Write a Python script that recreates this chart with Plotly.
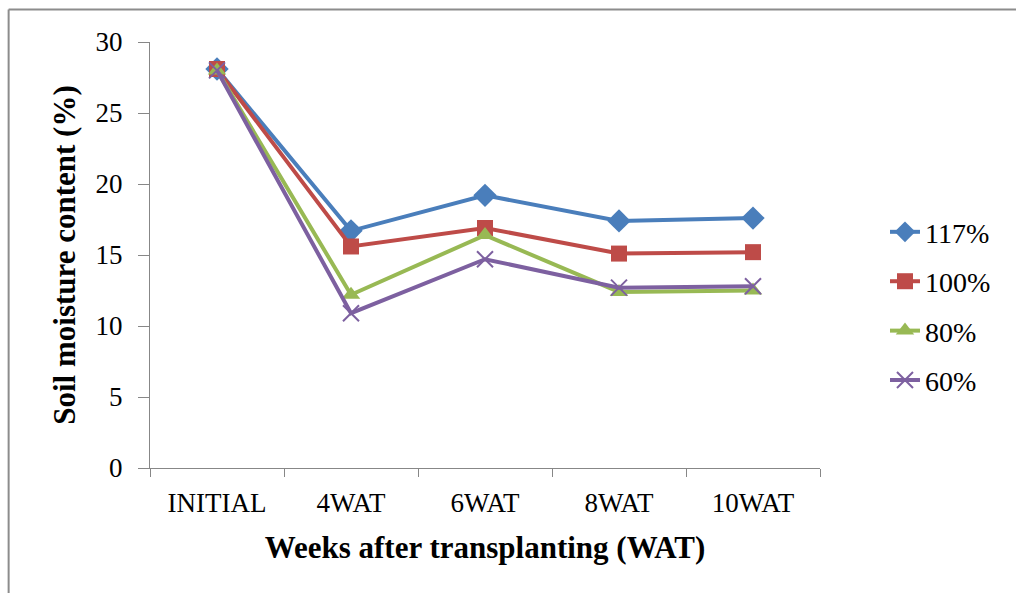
import plotly.graph_objects as go

# Sampling stages
weeks = ["INITIAL", "4WAT", "6WAT", "8WAT", "10WAT"]

# Soil moisture content (%) per irrigation level
moisture_117 = [28.1, 16.7, 19.2, 17.4, 17.6]
moisture_100 = [28.1, 15.6, 16.9, 15.1, 15.2]
moisture_80 = [28.0, 12.2, 16.4, 12.4, 12.5]
moisture_60 = [28.0, 10.9, 14.7, 12.7, 12.8]

series_names = ["117%", "100%", "80%", "60%"]

styles = [
    dict(color="#4A7EBB", symbol="diamond", size=18),
    dict(color="#BE4B48", symbol="square", size=16),
    dict(color="#98B954", symbol="triangle-up", size=16),
    dict(color="#7D60A0", symbol="x-thin", size=16),
]

fig = go.Figure()
for name, vals, st in zip(series_names,
                          [moisture_117, moisture_100, moisture_80, moisture_60],
                          styles):
    marker = dict(symbol=st["symbol"], size=st["size"], color=st["color"])
    if st["symbol"] == "x-thin":
        marker["line"] = dict(color=st["color"], width=2)
    else:
        marker["line"] = dict(width=0)
    fig.add_trace(go.Scatter(
        x=weeks, y=vals, name=name, mode="lines+markers",
        line=dict(color=st["color"], width=4),
        marker=marker, legendgroup=name,
    ))

axis_col = "#878787"
serif = "Liberation Serif"
fig.update_layout(
    width=1016, height=593,
    margin=dict(l=150, r=196, t=42, b=125),
    paper_bgcolor="white", plot_bgcolor="white",
    font=dict(family=serif, color="black", size=27),
    showlegend=True,
    legend=dict(x=1.097, y=0.38, yanchor="middle", xanchor="left",
                font=dict(family=serif, size=28, color="black"),
                tracegroupgap=10, bgcolor="rgba(0,0,0,0)"),
    xaxis=dict(
        type="category", range=[-0.5, 4.5], tickson="boundaries",
        ticks="outside", ticklen=8,
        tickcolor=axis_col, showline=True, linecolor=axis_col, linewidth=1,
        showgrid=False, tickfont=dict(family=serif, size=27),
        ticklabelstandoff=11,
        title=dict(text="<b>Weeks after transplanting (WAT)</b>",
                   font=dict(family=serif, size=31), standoff=18),
    ),
    yaxis=dict(
        range=[0, 30], dtick=5, ticks="outside", ticklen=11,
        tickcolor=axis_col, showline=True, linecolor=axis_col, linewidth=1,
        showgrid=False, zeroline=False, tickfont=dict(family=serif, size=27),
        ticklabelstandoff=10,
        title=dict(text="<b>Soil moisture content (%)</b>",
                   font=dict(family=serif, size=31), standoff=10),
    ),
    shapes=[
        # outer frame of the chart area (left and top edges)
        dict(type="line", xref="paper", yref="paper",
             x0=-0.211, x1=-0.211, y0=-0.4, y1=1.076,
             line=dict(color="#8C8C8C", width=2)),
        dict(type="line", xref="paper", yref="paper",
             x0=-0.211, x1=1.5, y0=1.076, y1=1.076,
             line=dict(color="#8C8C8C", width=2)),
    ],
)

fig.write_html("out.html")
